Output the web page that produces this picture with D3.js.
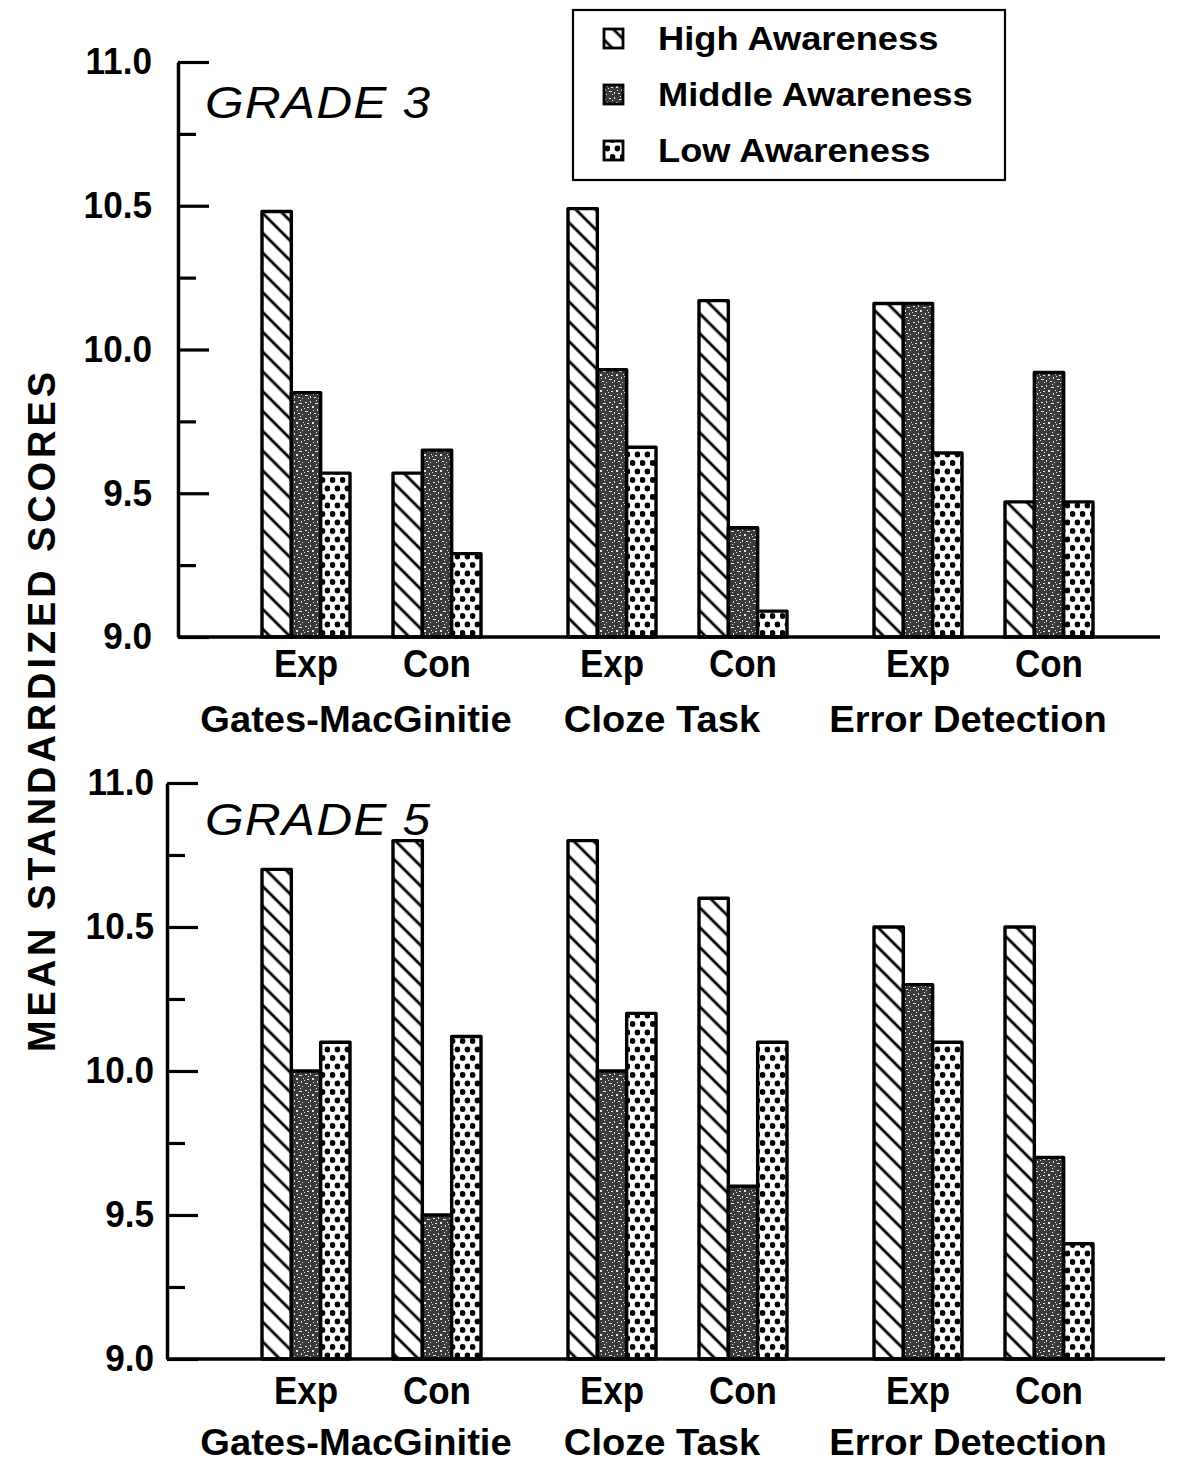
<!DOCTYPE html>
<html><head><meta charset="utf-8">
<script src="https://cdn.jsdelivr.net/npm/d3@7"></script>
<style>
body{margin:0;background:#fff}
svg{display:block}
text{font-family:"Liberation Sans",Arial,Helvetica,sans-serif;fill:#000}
</style>
</head><body><svg id="chart"></svg>
<script>
// ---------------- data ----------------
const tests = ["Gates-MacGinitie", "Cloze Task", "Error Detection"];
const conditions = ["Exp", "Con"];
const groups = ["High Awareness", "Middle Awareness", "Low Awareness"];
const panelTitles = ["GRADE 3", "GRADE 5"];
const yMajorTicks = [9.0, 9.5, 10.0, 10.5, 11.0];
const yMinorTicks = [9.25, 9.75, 10.25, 10.75];
const yTitle = "MEAN STANDARDIZED SCORES";
// order of values: GM Exp, GM Con, Cloze Exp, Cloze Con, ED Exp, ED Con
const grade3High   = [10.48, 9.57, 10.49, 10.17, 10.16, 9.47];
const grade3Middle = [9.85, 9.65, 9.93, 9.38, 10.16, 9.92];
const grade3Low    = [9.57, 9.29, 9.66, 9.09, 9.64, 9.47];
const grade5High   = [10.70, 10.80, 10.80, 10.60, 10.50, 10.50];
const grade5Middle = [10.00, 9.50, 10.00, 9.60, 10.30, 9.70];
const grade5Low    = [10.10, 10.12, 10.20, 10.10, 10.10, 9.40];

// ---------------- layout ----------------
const W = 1185, H = 1466;
const svg = d3.select("#chart").attr("width", W).attr("height", H);
svg.append("rect").attr("width", W).attr("height", H).attr("fill", "#fff");

const defs = svg.append("defs");
// diagonal hatch (High)
const ph = defs.append("pattern").attr("id", "pHigh").attr("patternUnits", "userSpaceOnUse")
  .attr("width", 14).attr("height", 14).attr("patternTransform", "rotate(-45)");
ph.append("rect").attr("width", 14).attr("height", 14).attr("fill", "#fff");
ph.append("line").attr("x1", 7).attr("x2", 7).attr("y1", -2).attr("y2", 16)
  .attr("stroke", "#000").attr("stroke-width", 2.8);
// mottled dark (Middle)
const pm = defs.append("pattern").attr("id", "pMid").attr("patternUnits", "userSpaceOnUse")
  .attr("width", 16).attr("height", 16);
pm.append("rect").attr("width", 16).attr("height", 16).attr("fill", "#3a3a3a");
const speck = (x, y, w, h) => pm.append("rect").attr("x", x).attr("y", y).attr("width", w).attr("height", h).attr("fill", "#e6e6e6");
speck(1, 2, 2, 1); speck(6, 1, 1, 2); speck(11, 3, 3, 1); speck(3, 7, 2, 1);
speck(8, 6, 2, 2); speck(13, 9, 1, 2); speck(1, 11, 3, 1); speck(6, 12, 1, 2);
speck(10, 13, 2, 1); speck(14, 14, 1, 1); speck(4, 14, 1, 1); speck(9, 10, 1, 1);
speck(15, 6, 1, 1); speck(4, 4, 1, 1); speck(12, 0, 1, 1); speck(0, 8, 1, 1);
// dots (Low)
const pl = defs.append("pattern").attr("id", "pLow").attr("patternUnits", "userSpaceOnUse")
  .attr("width", 10).attr("height", 17);
pl.append("rect").attr("width", 10).attr("height", 17).attr("fill", "#fff");
pl.append("circle").attr("cx", 2.5).attr("cy", 4).attr("r", 2.9).attr("fill", "#000");
pl.append("circle").attr("cx", 7.5).attr("cy", 12.5).attr("r", 2.9).attr("fill", "#000");

const fillFor = d3.scaleOrdinal().domain(groups).range(["url(#pHigh)", "url(#pMid)", "url(#pLow)"]);

// x scales (shared by both panels)
const xTest = d3.scaleBand().domain(tests).range([222, 1140]);
const xCond = d3.scaleBand().domain(conditions).range([40, 302]);
const xGroup = d3.scaleBand().domain(groups).range([0, 88]);

const panels = [
  { title: panelTitles[0], axisX: 178, yTop: 62, yBase: 637, right: 1160, titleY: 118,
    condY: 677, testY: 732, padding: 26,
    series: [grade3High, grade3Middle, grade3Low] },
  { title: panelTitles[1], axisX: 167, yTop: 783, yBase: 1359, right: 1165, titleY: 835,
    condY: 1404, testY: 1455, padding: 13,
    series: [grade5High, grade5Middle, grade5Low] }
];

const condense = (sel, f) => sel.each(function () {
  const n = this.getComputedTextLength();
  d3.select(this).attr("textLength", n * f).attr("lengthAdjust", "spacingAndGlyphs");
});

panels.forEach(p => {
  const y = d3.scaleLinear().domain([9, 11]).range([p.yBase, p.yTop]);
  const g = svg.append("g");

  // bars
  const rows = [];
  tests.forEach((t, ti) => conditions.forEach((c, ci) => groups.forEach((gr, gi) => {
    rows.push({ test: t, cond: c, group: gr, value: p.series[gi][ti * 2 + ci] });
  })));
  g.selectAll("rect.bar").data(rows).join("rect").attr("class", "bar")
    .attr("x", d => xTest(d.test) + xCond(d.cond) + xGroup(d.group))
    .attr("width", xGroup.bandwidth())
    .attr("y", d => y(d.value))
    .attr("height", d => y(9) - y(d.value))
    .attr("fill", d => fillFor(d.group))
    .attr("stroke", "#000").attr("stroke-width", 3.4).attr("stroke-linejoin", "round");

  // baseline
  g.append("line").attr("x1", p.axisX).attr("x2", p.right)
    .attr("y1", y(9)).attr("y2", y(9)).attr("stroke", "#000").attr("stroke-width", 3.5);

  // y axis
  const ax = g.append("g").attr("transform", `translate(${p.axisX},0)`)
    .call(d3.axisLeft(y).tickValues(yMajorTicks).tickSizeInner(-31).tickSizeOuter(0)
      .tickPadding(p.padding).tickFormat(d3.format(".1f")));
  ax.select(".domain").attr("stroke", "#000").attr("stroke-width", 3.5);
  ax.selectAll(".tick line").attr("stroke", "#000").attr("stroke-width", 3.2);
  ax.selectAll(".tick text").attr("font-size", 37).attr("font-weight", "bold")
    .attr("font-family", "'Liberation Sans',Arial,sans-serif").call(condense, 0.95);
  const axm = g.append("g").attr("transform", `translate(${p.axisX},0)`)
    .call(d3.axisLeft(y).tickValues(yMinorTicks).tickSize(-18).tickFormat(""));
  axm.select(".domain").remove();
  axm.selectAll(".tick line").attr("stroke", "#000").attr("stroke-width", 3.2);

  // panel title
  g.append("text").attr("x", 205).attr("y", p.titleY).attr("font-size", 44)
    .attr("font-style", "italic").attr("letter-spacing", 1).text(p.title)
    .call(condense, 1.13);

  // condition labels
  tests.forEach(t => conditions.forEach(c => {
    g.append("text").attr("x", xTest(t) + xCond(c) + xGroup.range()[1] / 2)
      .attr("y", p.condY).attr("text-anchor", "middle").attr("font-size", 38)
      .attr("font-weight", "bold").text(c).call(condense, 0.92);
  }));
  // test labels
  tests.forEach(t => {
    g.append("text").attr("x", xTest(t) + 134).attr("y", p.testY)
      .attr("text-anchor", "middle").attr("font-size", 37).attr("font-weight", "bold")
      .text(t).call(condense, 1.03);
  });
});

// legend
const lg = svg.append("g");
lg.append("rect").attr("x", 573).attr("y", 10).attr("width", 432).attr("height", 170)
  .attr("fill", "#fff").attr("stroke", "#000").attr("stroke-width", 2.2);
const legY = d3.scalePoint().domain(groups).range([38, 150]);
groups.forEach(gr => {
  lg.append("rect").attr("x", 604).attr("y", legY(gr) - 9).attr("width", 19).attr("height", 19)
    .attr("fill", fillFor(gr)).attr("stroke", "#000").attr("stroke-width", 2.8);
  lg.append("text").attr("x", 658).attr("y", legY(gr) + 12).attr("font-size", 33)
    .attr("font-weight", "bold").text(gr).call(condense, 1.1);
});

// y title
svg.append("text").attr("transform", "translate(42,712) rotate(-90)")
  .attr("text-anchor", "middle").attr("dominant-baseline", "central")
  .attr("font-size", 38).attr("font-weight", "bold")
  .attr("textLength", 680).attr("lengthAdjust", "spacing").text(yTitle);
</script>
</body></html>
